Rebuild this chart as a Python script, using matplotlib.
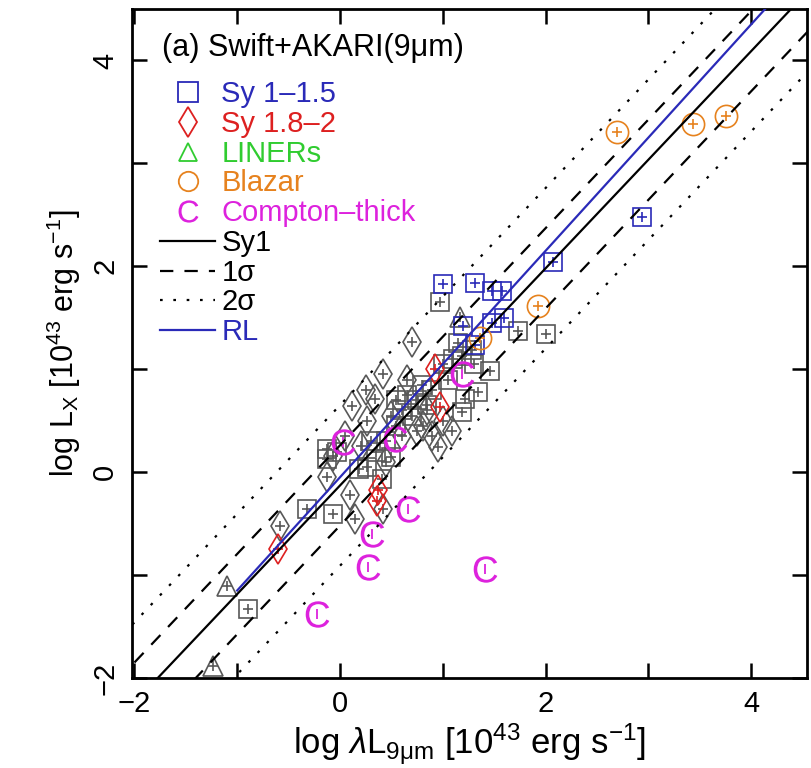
import numpy as np
import matplotlib
matplotlib.use("Agg")
import matplotlib.pyplot as plt
from matplotlib.lines import Line2D

plt.rcParams['font.family'] = ['Liberation Sans', 'DejaVu Sans']
plt.rcParams['mathtext.fontset'] = 'custom'
plt.rcParams['mathtext.rm'] = 'Liberation Sans'
plt.rcParams['mathtext.it'] = 'Liberation Sans:italic'
plt.rcParams['mathtext.sf'] = 'Liberation Sans'

# colours
GRAY = '#585858'
BLUE = '#2a2ab8'
RED = '#dd2020'
GREEN = '#30cc30'
ORANGE = '#e6821e'
MAGENTA = '#dd22dd'

# --- data (log lambda L_9um, log L_X) ---
sy1_gray_x = [-0.89, -0.32, -0.07, -0.13, -0.13, -0.03, 0.19, 0.26, 0.41, 0.30, 0.45,
              0.55, 0.60, 0.70, 0.75, 0.85, 0.65, 0.55, 0.80, 0.90, 0.97, 1.00, 1.10,
              1.19, 1.28, 1.15, 1.19, 1.22, 1.34, 1.46, 1.73, 2.00, 1.05, 1.30, 0.35, 0.50]
sy1_gray_y = [-1.33, -0.36, -0.41, 0.13, 0.22, 0.20, 0.03, 0.05, -0.07, 0.30, 0.30,
              0.45, 0.60, 0.55, 0.70, 0.65, 0.75, 0.70, 0.85, 0.80, 1.65, 1.05, 1.10,
              1.13, 1.19, 1.25, 0.58, 0.71, 0.78, 0.98, 1.37, 1.34, 0.90, 1.05, 0.20, 0.15]

sy2_gray_x = [-0.58, 0.10, 0.15, 0.42, -0.13, -0.07, 0.12, 0.34, 0.26, 0.42, 0.70,
              0.81, 0.95, 1.09, 0.60, 0.20, 0.05, 0.50, 0.65, 0.85, 0.75, 1.00, 0.90,
              0.45, 0.25]
sy2_gray_y = [-0.52, -0.22, -0.46, -0.36, -0.05, 0.16, 0.64, 0.71, 0.50, 0.95, 1.26,
              0.45, 0.24, 0.40, 0.35, 0.25, 0.35, 0.55, 0.90, 0.60, 0.40, 0.50, 0.35,
              0.10, 0.80]

liner_gray_x = [-1.10, -1.24, 1.17]
liner_gray_y = [-1.11, -1.88, 1.51]

sy1_x = [1.00, 1.31, 1.48, 1.58, 1.60, 1.48, 1.20, 1.31, 2.07, 2.94]
sy1_y = [1.83, 1.84, 1.76, 1.76, 1.50, 1.45, 1.42, 1.24, 2.04, 2.48]

sy2_x = [-0.60, 0.37, 0.36, 0.92, 0.97]
sy2_y = [-0.75, -0.17, -0.28, 1.00, 0.63]

blazar_x = [2.70, 3.43, 3.76, 1.93, 1.36]
blazar_y = [3.30, 3.38, 3.46, 1.61, 1.30]

ct_x = [0.03, 0.54, 1.19, 0.66, 0.31, 0.27, 1.41, -0.22]
ct_y = [0.29, 0.32, 0.95, -0.36, -0.60, -0.92, -0.94, -1.38]

# regression lines: intercept, slope, scatter
sy1_a, sy1_b, sy1_sig = -0.13, 1.055, 0.39
rl_a, rl_b = -0.05, 1.10
rl_xmin = -1.0

fig = plt.figure(figsize=(8.11, 7.68), dpi=100)
ax = fig.add_axes([0.1624, 0.1172, 0.8326, 0.8711])

def pts(x, y, marker, color, ms):
    ax.plot(x, y, ls='none', marker=marker, ms=ms, mfc='none', mec=color, mew=1.2, zorder=2)
    ax.plot(x, y, ls='none', marker='+', ms=7, mec=color, mew=1.2, zorder=2)

pts(sy1_gray_x, sy1_gray_y, 's', GRAY, 13)
pts(sy2_gray_x, sy2_gray_y, 'd', GRAY, 15)
pts(liner_gray_x, liner_gray_y, '^', GRAY, 14)
pts(sy1_x, sy1_y, 's', BLUE, 13)
pts(sy2_x, sy2_y, 'd', RED, 15)
pts(blazar_x, blazar_y, 'o', ORANGE, 16)
ax.plot(ct_x, ct_y, ls='none', marker=r'$\mathrm{C}$', ms=19, mec='none',
        mfc=MAGENTA, zorder=2)
ax.plot(ct_x, ct_y, ls='none', marker='|', ms=7, mec=MAGENTA, mew=1.3, zorder=2)

xx = np.array([-3.0, 6.0])
ax.plot(xx, sy1_a + sy1_b * xx, color='black', lw=1.6, zorder=3)
for k in (1, -1):
    ax.plot(xx, sy1_a + sy1_b * xx + k * sy1_sig, color='black', lw=1.6,
            dashes=(6, 5), zorder=3)
    ax.plot(xx, sy1_a + sy1_b * xx + 2 * k * sy1_sig, color='black', lw=1.6,
            dashes=(1.2, 4.8), zorder=3)
xr = np.array([rl_xmin, 6.0])
ax.plot(xr, rl_a + rl_b * xr, color=BLUE, lw=1.6, zorder=4)

ax.set_xlim(-2.026, 4.543)
ax.set_ylim(-2.0, 4.5)
ax.set_xticks(np.arange(-2, 5, 1))
ax.set_yticks(np.arange(-2, 5, 1))
ax.set_xticklabels(['\u22122', '', '0', '', '2', '', '4'])
ax.set_yticklabels(['\u22122', '', '0', '', '2', '', '4'], rotation=90, va='center')
ax.tick_params(direction='in', length=11, width=1.8, top=True, right=True,
               labelsize=21, pad=9)
for s in ax.spines.values():
    s.set_linewidth(2.0)

ax.set_xlabel(r'log $\lambda$L$_{\mathrm{9\mu m}}$ [10$^{43}$ erg s$^{-1}$]', fontsize=25,
              labelpad=2)
ax.set_ylabel(r'log L$_{\mathrm{X}}$ [10$^{43}$ erg s$^{-1}$]', fontsize=22, labelpad=6)

ax.text(0.045, 0.9417, '(a) Swift+AKARI(9\u03bcm)', transform=ax.transAxes,
        fontsize=22, ha='left', va='center')

handles = [
    Line2D([], [], ls='none', marker='s', ms=14, mfc='none', mec=BLUE, mew=1.3),
    Line2D([], [], ls='none', marker='d', ms=15, mfc='none', mec=RED, mew=1.3),
    Line2D([], [], ls='none', marker='^', ms=13, mfc='none', mec=GREEN, mew=1.3),
    Line2D([], [], ls='none', marker='o', ms=14, mfc='none', mec=ORANGE, mew=1.3),
    Line2D([], [], ls='none', marker=r'$\mathrm{C}$', ms=16, mfc=MAGENTA, mec='none'),
    Line2D([], [], color='black', lw=1.6),
    Line2D([], [], color='black', lw=1.6, dashes=(6, 5)),
    Line2D([], [], color='black', lw=1.6, dashes=(1.2, 4.8)),
    Line2D([], [], color=BLUE, lw=1.6),
]
labels = ['Sy 1\u20131.5', 'Sy 1.8\u20132', 'LINERs', 'Blazar', 'Compton\u2013thick',
          'Sy1', '1\u03c3', '2\u03c3', 'RL']
lcolors = [BLUE, RED, GREEN, ORANGE, MAGENTA, 'black', 'black', 'black', BLUE]
leg = ax.legend(handles, labels, loc='upper left', bbox_to_anchor=(0.042, 0.8935),
                frameon=False, fontsize=21, labelcolor=lcolors,
                handlelength=1.9, handletextpad=0.2, labelspacing=0.06,
                borderpad=0, borderaxespad=0)

fig.savefig('out.png', dpi=100)
